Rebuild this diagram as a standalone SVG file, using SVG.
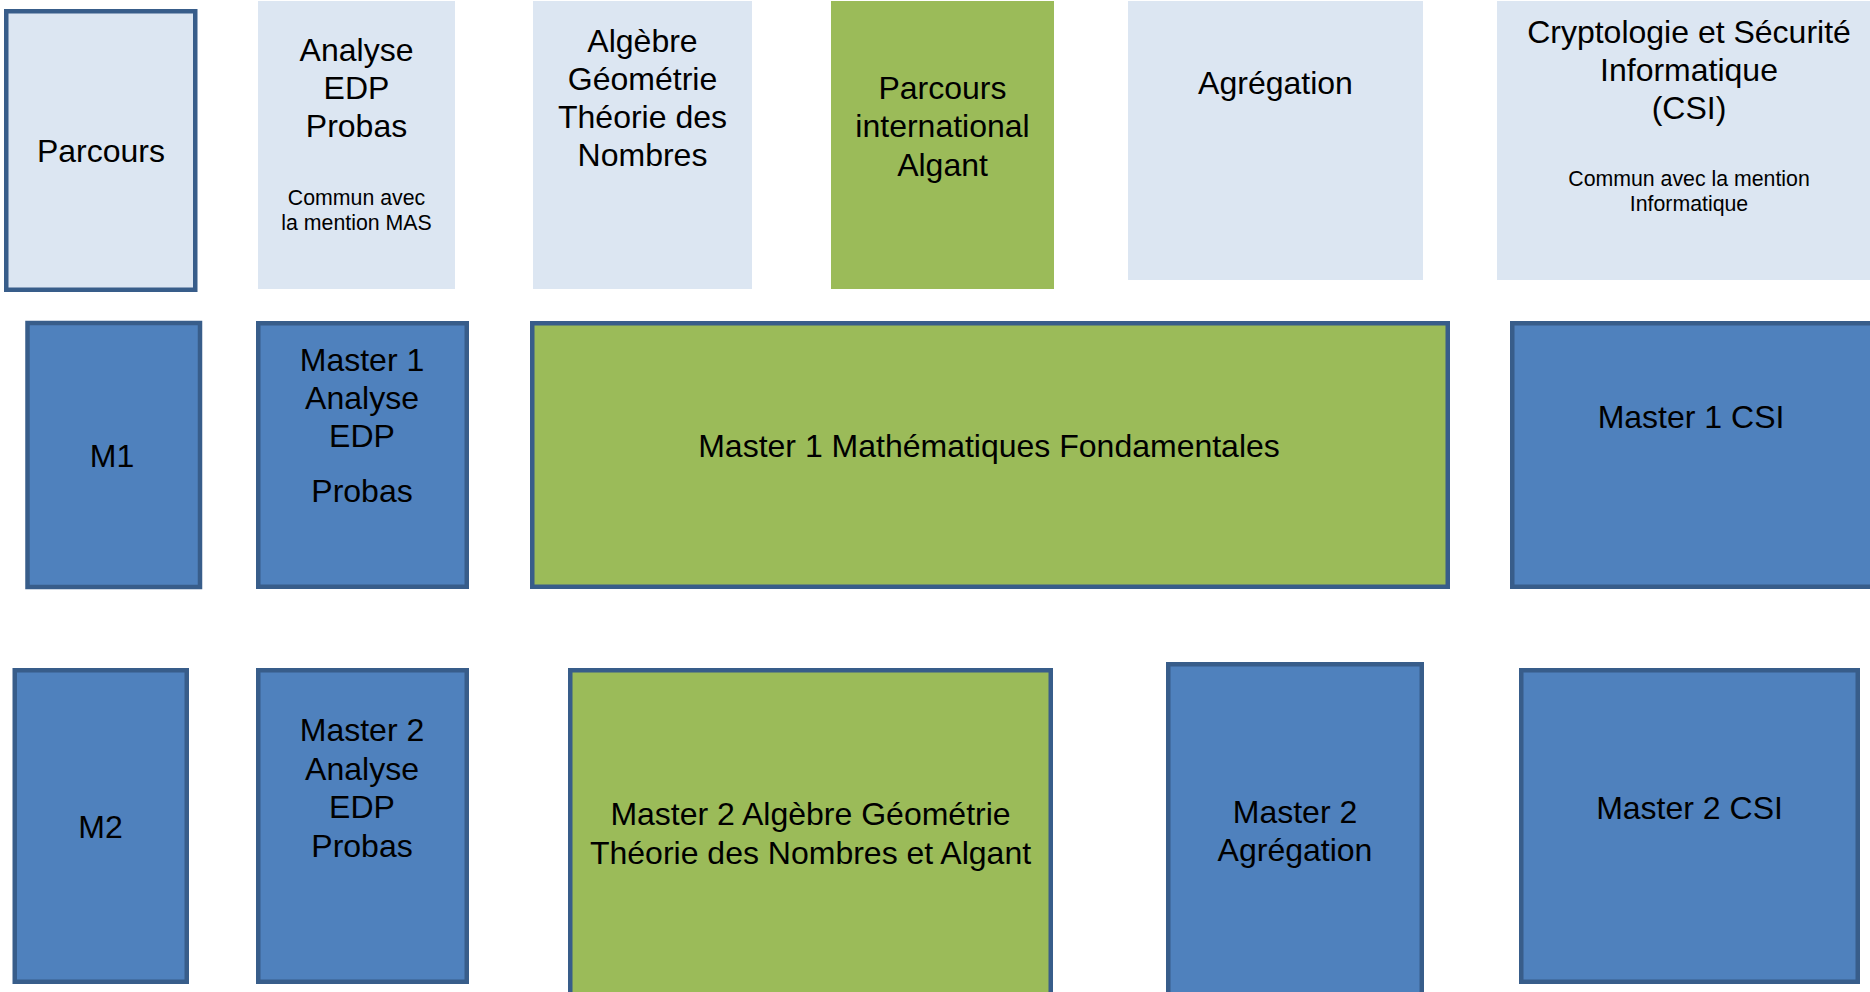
<svg xmlns="http://www.w3.org/2000/svg" width="1870" height="992" viewBox="0 0 1870 992">
  <style>
    .lite { fill: #DCE6F2; }
    .frame { fill: #DCE6F2; stroke: #385D8A; stroke-width: 4.5; }
    .blue { fill: #4F81BD; stroke: #385D8A; stroke-width: 4.5; }
    .green { fill: #9BBB59; stroke: #385D8A; stroke-width: 4.5; }
    .olive { fill: #9BBB59; }
    text { font-family: "Liberation Sans", Arial, sans-serif; fill: #000; text-anchor: middle; }
    .t { font-size: 32px; }
    .s { font-size: 21.3px; }
  </style>
  <rect width="1870" height="992" fill="#FFFFFF"/>

  <!-- top row: track headers -->
  <g id="hdr-parcours">
    <rect class="frame" x="6.25" y="11.25" width="189" height="278.5"/>
    <text class="t" x="101" y="162">Parcours</text>
  </g>
  <g id="hdr-analyse">
    <rect class="lite" x="258" y="1" width="197" height="288"/>
    <text class="t" x="356.5" y="61">Analyse</text>
    <text class="t" x="356.5" y="99">EDP</text>
    <text class="t" x="356.5" y="137">Probas</text>
    <text class="s" x="356.5" y="205">Commun avec</text>
    <text class="s" x="356.5" y="230">la mention MAS</text>
  </g>
  <g id="hdr-algebre">
    <rect class="lite" x="533" y="1" width="219" height="288"/>
    <text class="t" x="642.5" y="52">Algèbre</text>
    <text class="t" x="642.5" y="90">Géométrie</text>
    <text class="t" x="642.5" y="128">Théorie des</text>
    <text class="t" x="642.5" y="166">Nombres</text>
  </g>
  <g id="hdr-algant">
    <rect class="olive" x="831" y="1" width="223" height="288"/>
    <text class="t" x="942.5" y="99">Parcours</text>
    <text class="t" x="942.5" y="137">international</text>
    <text class="t" x="942.5" y="176">Algant</text>
  </g>
  <g id="hdr-agregation">
    <rect class="lite" x="1128" y="1" width="295" height="279"/>
    <text class="t" x="1275.5" y="94">Agrégation</text>
  </g>
  <g id="hdr-csi">
    <rect class="lite" x="1497" y="1" width="380" height="279"/>
    <text class="t" x="1689" y="43">Cryptologie et Sécurité</text>
    <text class="t" x="1689" y="81">Informatique</text>
    <text class="t" x="1689" y="119">(CSI)</text>
    <text class="s" x="1689" y="186">Commun avec la mention</text>
    <text class="s" x="1689" y="211">Informatique</text>
  </g>

  <!-- M1 row -->
  <g id="m1-label">
    <rect class="blue" x="27.5" y="323" width="172.5" height="264"/>
    <text class="t" x="112" y="467">M1</text>
  </g>
  <g id="m1-analyse">
    <rect class="blue" x="258.25" y="323.25" width="208.5" height="263.5"/>
    <text class="t" x="362" y="371">Master 1</text>
    <text class="t" x="362" y="409">Analyse</text>
    <text class="t" x="362" y="447">EDP</text>
    <text class="t" x="362" y="502">Probas</text>
  </g>
  <g id="m1-mf">
    <rect class="green" x="532.25" y="323.25" width="915.5" height="263.5"/>
    <text class="t" x="989" y="457">Master 1  Mathématiques Fondamentales</text>
  </g>
  <g id="m1-csi">
    <rect class="blue" x="1512.25" y="323.25" width="400" height="263.5"/>
    <text class="t" x="1691" y="428">Master 1 CSI</text>
  </g>

  <!-- M2 row -->
  <g id="m2-label">
    <rect class="blue" x="14.75" y="670.25" width="172" height="311.5"/>
    <text class="t" x="100.5" y="838">M2</text>
  </g>
  <g id="m2-analyse">
    <rect class="blue" x="258.25" y="670.25" width="208.5" height="311.5"/>
    <text class="t" x="362" y="741">Master 2</text>
    <text class="t" x="362" y="780">Analyse</text>
    <text class="t" x="362" y="818">EDP</text>
    <text class="t" x="362" y="857">Probas</text>
  </g>
  <g id="m2-agtn">
    <rect class="green" x="570.25" y="670.25" width="480.5" height="360"/>
    <text class="t" x="810.5" y="825">Master 2 Algèbre Géométrie</text>
    <text class="t" x="810.5" y="864">Théorie des Nombres et Algant</text>
  </g>
  <g id="m2-agreg">
    <rect class="blue" x="1168.25" y="664.25" width="253.5" height="360"/>
    <text class="t" x="1295" y="823">Master 2</text>
    <text class="t" x="1295" y="861">Agrégation</text>
  </g>
  <g id="m2-csi">
    <rect class="blue" x="1521.25" y="670.25" width="336.5" height="311.5"/>
    <text class="t" x="1689.5" y="819">Master 2 CSI</text>
  </g>

  <!-- no connectors in this layout -->
  <g id="connectors"/>
</svg>
